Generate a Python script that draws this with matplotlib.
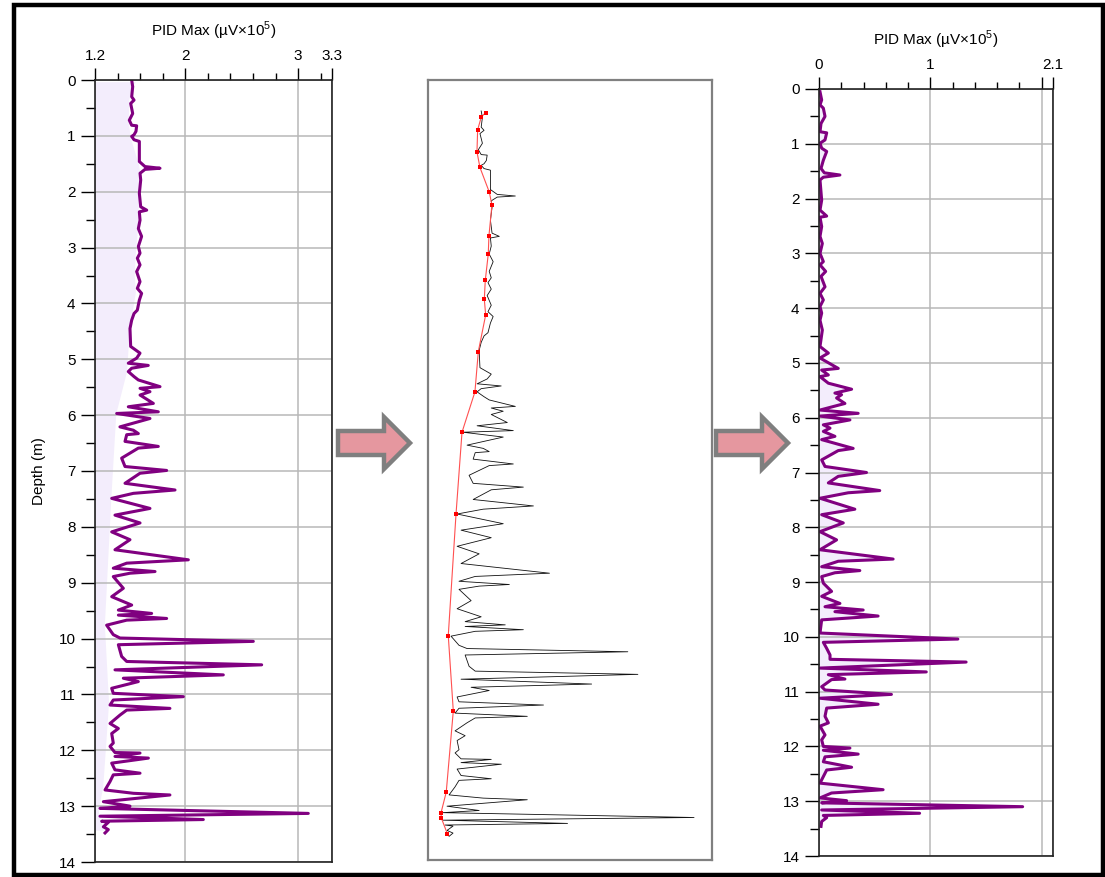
import matplotlib
matplotlib.use("Agg")
import matplotlib.pyplot as plt
from matplotlib.patches import Polygon, Rectangle

plt.rcParams["font.family"] = ["Liberation Sans", "DejaVu Sans"]
plt.rcParams["mathtext.fontset"] = "custom"
plt.rcParams["mathtext.rm"] = "Liberation Sans"

# raw PID log (left panel, and the thin black trace in the middle)
raw_depth = [0.00, 0.12, 0.30, 0.36, 0.42, 0.60, 0.72, 0.81, 0.82, 0.92, 0.98, 1.01, 1.07, 1.10,
             1.46, 1.55, 1.58, 1.60, 1.67, 1.79, 2.03, 2.27, 2.33, 2.36, 2.51, 2.66, 2.80, 2.98,
             3.10, 3.19, 3.31, 3.43, 3.61, 3.73, 3.82, 3.94, 4.12, 4.18, 4.30, 4.45, 4.77, 4.89,
             4.98, 5.07, 5.11, 5.16, 5.22, 5.31, 5.37, 5.49, 5.52, 5.58, 5.64, 5.79, 5.85, 5.94,
             5.97, 6.06, 6.21, 6.27, 6.33, 6.35, 6.47, 6.56, 6.59, 6.77, 6.92, 6.99, 7.04, 7.22,
             7.34, 7.40, 7.49, 7.67, 7.79, 7.93, 8.09, 8.23, 8.41, 8.59, 8.65, 8.74, 8.80, 8.83,
             8.89, 9.10, 9.25, 9.40, 9.49, 9.55, 9.58, 9.64, 9.67, 9.76, 9.93, 9.99, 10.05, 10.11,
             10.32, 10.41, 10.47, 10.56, 10.65, 10.71, 10.77, 10.89, 10.98, 11.04, 11.10, 11.19,
             11.25, 11.28, 11.37, 11.52, 11.61, 11.70, 11.87, 11.93, 12.04, 12.05, 12.11, 12.14,
             12.23, 12.35, 12.41, 12.44, 12.56, 12.71, 12.77, 12.80, 12.86, 12.92, 13.00, 13.04,
             13.13, 13.18, 13.24, 13.27, 13.29, 13.37, 13.42, 13.48]
raw_pid = [1.525, 1.534, 1.525, 1.546, 1.516, 1.534, 1.504, 1.525, 1.569, 1.563, 1.546, 1.525, 1.546, 1.593,
           1.593, 1.643, 1.776, 1.643, 1.599, 1.605, 1.593, 1.605, 1.658, 1.593, 1.599, 1.584, 1.613, 1.584,
           1.599, 1.575, 1.599, 1.569, 1.599, 1.575, 1.613, 1.593, 1.575, 1.546, 1.525, 1.510, 1.516, 1.599,
           1.569, 1.495, 1.672, 1.525, 1.495, 1.546, 1.584, 1.776, 1.599, 1.687, 1.599, 1.717, 1.495, 1.761,
           1.392, 1.687, 1.421, 1.540, 1.584, 1.481, 1.466, 1.761, 1.584, 1.436, 1.466, 1.835, 1.599, 1.466,
           1.909, 1.540, 1.348, 1.687, 1.377, 1.599, 1.348, 1.510, 1.377, 2.027, 1.481, 1.362, 1.732, 1.510,
           1.362, 1.451, 1.348, 1.525, 1.407, 1.702, 1.407, 1.835, 1.481, 1.303, 1.362, 1.421, 2.603, 1.407,
           1.436, 1.481, 2.677, 1.377, 2.337, 1.451, 1.584, 1.348, 1.362, 1.983, 1.362, 1.333,
           1.864, 1.481, 1.421, 1.333, 1.407, 1.348, 1.362, 1.333, 1.377, 1.599, 1.377, 1.673,
           1.348, 1.377, 1.599, 1.362, 1.333, 1.289, 1.540, 1.864, 1.569, 1.274, 1.510, 1.244,
           3.090, 1.244, 2.160, 1.259, 1.318, 1.274, 1.318, 1.289]

# picked baseline points (red squares in the middle panel)
base_depth = [0.03, 0.11, 0.35, 0.76, 1.05, 1.51, 1.75, 2.32, 2.66, 3.15, 3.50, 3.79, 4.47,
              5.22, 5.97, 7.49, 9.75, 11.15, 12.66, 13.05, 13.14, 13.43]
base_pid = [1.558, 1.526, 1.499, 1.494, 1.516, 1.585, 1.604, 1.582, 1.577, 1.555, 1.548, 1.558, 1.504,
            1.479, 1.384, 1.340, 1.283, 1.320, 1.268, 1.229, 1.232, 1.276]

# baseline-corrected log (right panel)
corr_depth = [0.05, 0.20, 0.29, 0.35, 0.50, 0.63, 0.78, 0.80, 0.93, 0.99, 1.08, 1.14, 1.30, 1.45,
              1.53, 1.57, 1.61, 1.66, 2.03, 2.21, 2.32, 2.34, 2.51, 2.69, 2.82, 3.00, 3.15, 3.21,
              3.33, 3.42, 3.61, 3.73, 3.85, 3.97, 4.09, 4.22, 4.40, 4.70, 4.82, 4.91, 5.10, 5.13,
              5.22, 5.25, 5.37, 5.48, 5.55, 5.58, 5.64, 5.74, 5.86, 5.92, 5.97, 6.04, 6.13, 6.19,
              6.25, 6.34, 6.40, 6.56, 6.60, 6.77, 6.89, 7.00, 7.07, 7.19, 7.33, 7.37, 7.47, 7.67,
              7.77, 7.92, 8.08, 8.23, 8.41, 8.58, 8.62, 8.72, 8.79, 8.83, 8.90, 9.02, 9.17, 9.26,
              9.39, 9.45, 9.51, 9.54, 9.62, 9.69, 9.93, 10.04, 10.10, 10.21, 10.33, 10.41, 10.46,
              10.57, 10.64, 10.69, 10.77, 10.78, 10.91, 10.97, 11.05, 11.12, 11.23, 11.30, 11.45,
              11.57, 11.63, 11.79, 11.88, 12.00, 12.03, 12.07, 12.14, 12.19, 12.28, 12.38, 12.43,
              12.55, 12.67, 12.79, 12.85, 12.94, 12.99, 13.03, 13.10, 13.16, 13.22, 13.26, 13.30,
              13.37, 13.46]
corr_pid = [0.009, 0.024, 0.009, 0.039, 0.054, 0.018, 0.009, 0.069, 0.054, 0.009, 0.024, 0.069, 0.039, 0.018,
            0.048, 0.188, 0.039, 0.009, 0.024, 0.009, 0.069, 0.009, 0.024, 0.009, 0.030, 0.009, 0.039, 0.009,
            0.060, 0.018, 0.054, 0.009, 0.039, 0.009, 0.024, 0.009, 0.030, 0.009, 0.084, 0.009, 0.173, 0.024,
            0.084, 0.009, 0.084, 0.293, 0.143, 0.203, 0.158, 0.233, 0.009, 0.352, 0.009, 0.278, 0.039, 0.099,
            0.039, 0.143, 0.024, 0.307, 0.173, 0.024, 0.054, 0.427, 0.173, 0.084, 0.546, 0.263, 0.009, 0.322,
            0.024, 0.218, 0.009, 0.158, 0.009, 0.666, 0.173, 0.024, 0.367, 0.143, 0.024, 0.039, 0.113, 0.024,
            0.188, 0.054, 0.397, 0.143, 0.531, 0.024, 0.009, 1.248, 0.039, 0.069, 0.099, 0.099, 1.322,
            0.009, 0.964, 0.084, 0.233, 0.113, 0.024, 0.054, 0.651, 0.009, 0.531, 0.069, 0.054,
            0.084, 0.009, 0.054, 0.024, 0.039, 0.278, 0.039, 0.352, 0.054, 0.039, 0.293, 0.069,
            0.039, 0.009, 0.576, 0.113, 0.009, 0.248, 0.024, 1.830, 0.024, 0.904, 0.039, 0.069,
            0.024, 0.018]

left_xticks = [1.2, 2, 3, 3.3]
left_xlabels = ["1.2", "2", "3", "3.3"]
left_xminor = [1.4, 1.6, 1.8, 2.2, 2.4, 2.6, 2.8, 3.2]
right_xticks = [0, 1, 2, 2.1]
right_xlabels = ["0", "1", "", "2.1"]
right_xminor = [0.2, 0.4, 0.6, 0.8, 1.2, 1.4, 1.6, 1.8]
depth_ticks = list(range(0, 15))
depth_minor = [d + 0.5 for d in range(0, 14)]

PURPLE = "#800080"
LAVENDER = "#F3EDFC"
GRID = "#B8B8B8"
X_LABEL = "PID Max (µV×10$^{\\mathregular{5}}$)"
FS = 11

W, H = 1105, 877
fig = plt.figure(figsize=(W / 100, H / 100), dpi=100)


def box(x0, y0, x1, y1):
    # pixel box (top-left origin) -> figure fraction rect
    return [x0 / W, 1 - y1 / H, (x1 - x0) / W, (y1 - y0) / H]


def style_log(ax, xlim, major, labels, minor, ylabel=None):
    ax.set_xlim(*xlim)
    ax.set_ylim(14, 0)
    ax.set_axisbelow(True)
    ax.xaxis.tick_top()
    ax.xaxis.set_label_position("top")
    ax.set_xticks(major)
    ax.set_xticklabels(labels)
    ax.set_xticks(minor, minor=True)
    ax.set_yticks(depth_ticks)
    ax.set_yticks(depth_minor, minor=True)
    ax.tick_params(axis="x", which="major", length=9, width=1, pad=3.5, labelsize=FS)
    ax.tick_params(axis="x", which="minor", length=5, width=1)
    ax.tick_params(axis="y", which="major", length=10, width=1, pad=4, labelsize=FS)
    ax.tick_params(axis="y", which="minor", length=6.5, width=1)
    ax.grid(True, which="major", color=GRID, lw=1.1)
    for s in ax.spines.values():
        s.set_linewidth(1.2)
        s.set_color("#222222")
    ax.set_xlabel(X_LABEL, fontsize=FS, labelpad=9)
    if ylabel:
        ax.set_ylabel(ylabel, fontsize=FS, labelpad=9)


# left: raw log with baseline region shaded
ax1 = fig.add_axes(box(95, 80, 332, 862))
ax1.fill_betweenx(base_depth, 1.2, base_pid, color=LAVENDER, lw=0, zorder=0.2)
ax1.plot(raw_pid, raw_depth, color=PURPLE, lw=2.2, solid_joinstyle="round")
style_log(ax1, (1.2, 3.3), left_xticks, left_xlabels, left_xminor, ylabel="Depth (m)")

# middle: raw trace with picked baseline
ax2 = fig.add_axes(box(428, 80, 712, 860))
ax2.plot(raw_pid, raw_depth, color="#111111", lw=0.6)
ax2.plot(base_pid, base_depth, color="#FF5050", lw=0.8)
ax2.plot(base_pid, base_depth, "s", color="red", ms=2.6, mew=0)
ax2.set_xlim(1.134, 3.222)
ax2.set_ylim(13.92, -0.576)
ax2.set_xticks([])
ax2.set_yticks([])
for s in ax2.spines.values():
    s.set_linewidth(1.6)
    s.set_color("#808080")

# right: baseline-corrected log
ax3 = fig.add_axes(box(819, 89, 1052.7, 856))
ax3.fill_betweenx(corr_depth, 0, corr_pid, color=LAVENDER, lw=0, zorder=0.2)
ax3.plot(corr_pid, corr_depth, color=PURPLE, lw=2.2, solid_joinstyle="round")
style_log(ax3, (0, 2.1), right_xticks, right_xlabels, right_xminor)


def arrow(x0, x1, cy):
    xh = x1 - 26
    pts = [(x0, cy - 12), (xh, cy - 12), (xh, cy - 26), (x1, cy),
           (xh, cy + 26), (xh, cy + 12), (x0, cy + 12)]
    pts = [(x / W, 1 - y / H) for x, y in pts]
    fig.patches.append(Polygon(pts, closed=True, transform=fig.transFigure,
                               facecolor="#E5979F", edgecolor="#7F7F7F", lw=3.2,
                               joinstyle="miter"))


arrow(338, 410, 443)
arrow(716, 788, 443)

fig.patches.append(Rectangle((14 / W, 1 - 875 / H), (1103 - 14) / W, (875 - 5) / H,
                             transform=fig.transFigure, fill=False,
                             edgecolor="black", lw=3.2))

fig.savefig("out.png", dpi=100)
